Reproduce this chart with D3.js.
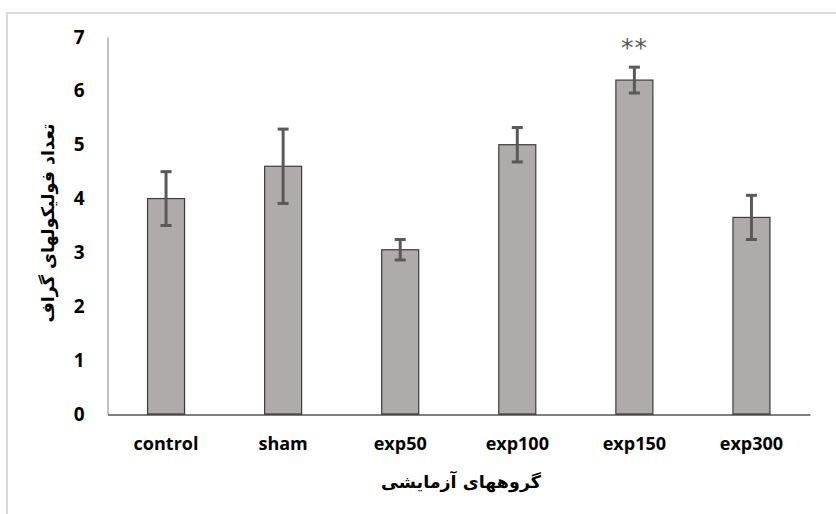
<!DOCTYPE html>
<html><head><meta charset="utf-8">
<script src="https://cdn.jsdelivr.net/npm/d3@7"></script>
<style>body{margin:0;background:#fff}svg{display:block}</style>
</head><body>
<script>
const categories = ["control","sham","exp50","exp100","exp150","exp300"];
const means = [4.0, 4.6, 3.05, 5.0, 6.2, 3.65];
const errors = [0.5, 0.69, 0.19, 0.32, 0.24, 0.41];
const yTicks = [0,1,2,3,4,5,6,7];
const marks = ["","","","","**",""];
const xTitle = "گروههای آزمایشی";
const yTitle = "تعداد فولیکولهای گراف";

const W = 836, H = 514;
const svg = d3.select("body").append("svg").attr("width", W).attr("height", H);

svg.append("rect").attr("x",7).attr("y",13).attr("width",W).attr("height",H)
  .attr("fill","#fff").attr("stroke","#d9d9d9").attr("stroke-width",2);

const x = d3.scaleBand().domain(categories).range([107.5, 810])
  .paddingInner(0.684).paddingOuter(0.342);
const y = d3.scaleLinear().domain([0,7]).range([414, 37]);

// bars
svg.append("g").selectAll("rect").data(categories).join("rect")
  .attr("x", d => x(d)).attr("width", x.bandwidth())
  .attr("y", (d,i) => y(means[i])).attr("height", (d,i) => y(0) - y(means[i]))
  .attr("fill","#afabab").attr("stroke","#3c3c3c").attr("stroke-width",1.2);

// y axis
const yAxis = svg.append("g").attr("transform","translate(107.5,0)")
  .call(d3.axisLeft(y).tickValues(yTicks).tickSize(0).tickPadding(23).tickFormat(d3.format("d")));
yAxis.select(".domain").attr("stroke","#808080").attr("stroke-width",1);
yAxis.selectAll("text").attr("font-family","'Open Sans', sans-serif").attr("font-weight","bold")
  .attr("font-size","19px").attr("fill","#000");

// x axis
const xAxis = svg.append("g").attr("transform","translate(0,414.5)")
  .call(d3.axisBottom(x).tickSize(0).tickPadding(23));
xAxis.select(".domain").attr("stroke","#000").attr("stroke-width",1.2);
xAxis.selectAll("text").attr("font-family","'Open Sans', sans-serif").attr("font-weight","bold")
  .attr("font-size","18px").attr("fill","#000");

// error bars
const eg = svg.append("g").attr("stroke","#595959").attr("stroke-width",3);
categories.forEach((c,i) => {
  const cx = x(c) + x.bandwidth()/2;
  eg.append("line").attr("x1",cx).attr("x2",cx).attr("y1",y(means[i]+errors[i])).attr("y2",y(means[i]-errors[i]));
  [means[i]+errors[i], means[i]-errors[i]].forEach(v => {
    eg.append("line").attr("x1",cx-5.5).attr("x2",cx+5.5).attr("y1",y(v)).attr("y2",y(v));
  });
  if (marks[i]) {
    svg.append("text").attr("x",cx).attr("y",y(means[i]+errors[i]) - 11)
      .attr("text-anchor","middle").attr("font-family","'DejaVu Sans', sans-serif")
      .attr("font-size","25px").attr("letter-spacing","1px")
      .attr("fill","#595959").text(marks[i]);
  }
});

// titles
svg.append("text").attr("x",461).attr("y",488).attr("text-anchor","middle")
  .attr("direction","rtl").attr("font-family","'DejaVu Sans', sans-serif").attr("font-weight","bold")
  .attr("font-size","17.5px").attr("fill","#000").text(xTitle);
svg.append("text").attr("transform","translate(54,223) rotate(-90)").attr("text-anchor","middle")
  .attr("direction","rtl").attr("font-family","'DejaVu Sans', sans-serif").attr("font-weight","bold")
  .attr("font-size","17.5px").attr("fill","#000").text(yTitle);
</script>
</body></html>
